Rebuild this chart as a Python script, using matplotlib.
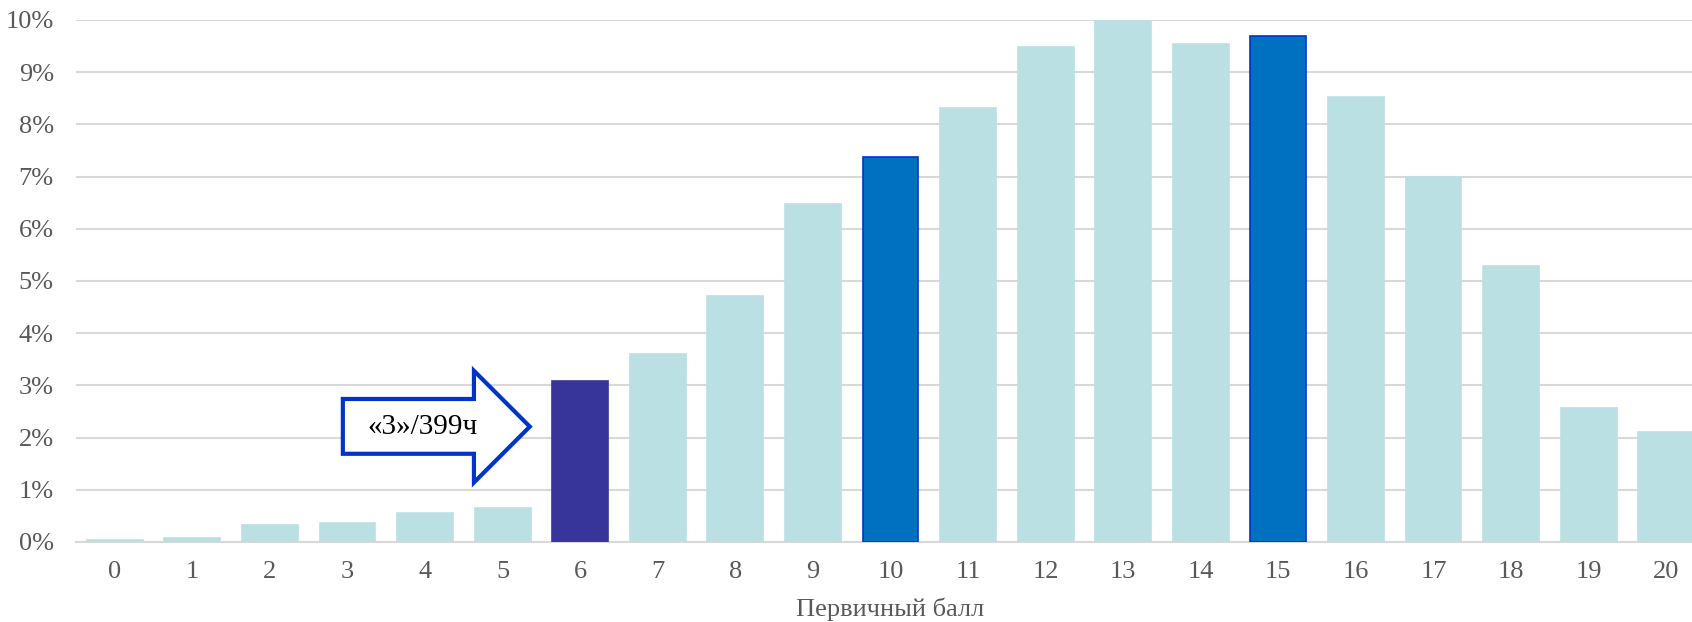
import numpy as np
import matplotlib.pyplot as plt
from matplotlib.patches import Polygon
from matplotlib.ticker import PercentFormatter

plt.rcParams["font.family"] = ["Liberation Serif", "DejaVu Serif"]

scores = list(range(21))
share = [0.04, 0.08, 0.32, 0.37, 0.56, 0.66, 3.08, 3.60, 4.72, 6.48, 7.37,
         8.32, 9.49, 10.0, 9.54, 9.69, 8.53, 7.00, 5.28, 2.57, 2.10]
threshold = 6
highlight = [10, 15]
note = "«3»/399ч"

light = '#BBE0E3'
dark = '#37349A'
blue = '#0070C0'
edge_blue = '#0033CC'
grey = '#595959'

colors = []
edges = []
for s in scores:
    if s == threshold:
        colors.append(dark); edges.append(dark)
    elif s in highlight:
        colors.append(blue); edges.append(edge_blue)
    else:
        colors.append(light); edges.append(light)

fig = plt.figure(figsize=(16.92, 6.22), dpi=100)
ax = fig.add_axes([76/1692, 80/622, (1705-76)/1692, 522/622])

ax.bar(scores, share, width=0.72, color=colors, edgecolor=edges, linewidth=1.2, zorder=3)
ax.set_xlim(-0.5, 20.5)
ax.set_ylim(0, 10)
ax.set_yticks(np.arange(0, 11, 1))
ax.yaxis.set_major_formatter(PercentFormatter(100, decimals=0))
ax.set_xticks(scores)
ax.grid(axis='y', color='#D9D9D9', linewidth=1.5, zorder=0)
for sp in ['top', 'right', 'left']:
    ax.spines[sp].set_visible(False)
ax.spines['bottom'].set_color('#D9D9D9')
ax.spines['bottom'].set_linewidth(1.5)
ax.tick_params(axis='both', length=0, labelsize=19, labelcolor=grey)
ax.tick_params(axis='y', pad=16)
ax.tick_params(axis='x', pad=14)
ax.set_xlabel('Первичный балл', fontsize=19, color=grey, labelpad=10)

# стрелка с подписью
x0, xh, xt = 2.94, 4.63, 5.35
yb, yt, yhb, yht, ytip = 1.69, 2.74, 1.14, 3.28, 2.21
arrow = Polygon([(x0, yb), (x0, yt), (xh, yt), (xh, yht), (xt, ytip),
                 (xh, yhb), (xh, yb)], closed=True, facecolor='white',
                edgecolor=edge_blue, linewidth=3, zorder=4)
ax.add_patch(arrow)
ax.text(3.97, 2.2, note, fontsize=21, color='black', ha='center', va='center', zorder=5)

fig.savefig('out.png', dpi=100)
